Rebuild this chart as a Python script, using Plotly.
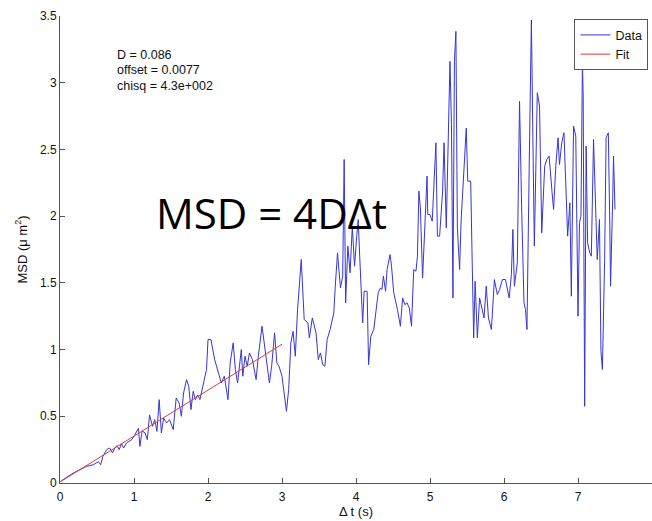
import plotly.graph_objects as go

# ---- data ----
data_t = [0.02,0.18,0.27,0.36,0.45,0.52,0.55,0.58,0.63,0.67,0.71,0.74,0.77,0.80,0.83,0.86,0.90,0.93,0.97,1.00,
          1.03,1.06,1.08,1.11,1.15,1.18,1.21,1.25,1.28,1.31,1.34,1.37,1.40,1.44,1.48,1.53,1.57,1.61,1.64,1.67,
          1.71,1.74,1.77,1.80,1.83,1.86,1.89,1.92,1.95,1.98,2.00,
          2.04,2.09,2.13,2.18,2.22,2.27,2.30,2.34,2.37,2.40,2.45,2.47,2.50,2.53,2.56,2.60,2.65,2.68,2.73,2.76,
          2.80,2.83,2.86,2.90,2.93,2.96,3.00,3.02,3.06,3.09,3.12,3.15,3.18,3.21,3.26,3.30,
          3.35,3.37,3.41,3.46,3.49,3.52,3.55,3.58,3.61,3.65,3.70,3.72,3.75,3.79,3.82,3.84,3.86,3.89,3.92,3.95,
          3.98,4.01,4.03,4.05,4.09,4.11,4.15,4.17,4.20,4.24,4.27,4.30,4.33,4.35,4.37,4.40,4.42,4.46,4.48,4.51,
          4.56,4.60,4.63,4.66,4.69,4.72,4.75,4.78,4.81,4.83,
          4.85,4.87,4.90,4.93,4.96,4.97,5.00,5.03,5.05,5.08,5.10,5.13,5.17,5.19,5.22,5.24,5.27,5.29,5.31,5.33,
          5.35,5.37,5.40,5.42,5.45,5.47,5.49,5.51,5.55,5.57,5.59,5.61,5.64,5.67,5.70,5.73,5.76,5.79,5.83,5.87,
          5.91,5.94,5.98,6.02,6.07,6.10,6.12,6.14,6.18,6.21,
          6.24,6.27,6.29,6.31,6.34,6.37,6.39,6.41,6.45,6.48,6.51,6.55,6.58,6.61,6.65,6.67,6.70,6.73,6.75,6.78,
          6.81,6.84,6.86,6.89,6.91,6.94,6.97,7.00,7.02,7.04,7.06,7.07,7.09,7.11,7.13,7.16,7.18,7.21,7.23,7.26,
          7.29,7.31,7.33,7.36,7.38,7.41,7.43,7.44,7.47,7.48,7.50]
data_msd = [0.017,0.075,0.10,0.125,0.137,0.16,0.137,0.20,0.25,0.262,0.225,0.262,0.28,0.25,0.295,0.262,0.30,0.312,0.325,0.35,
            0.375,0.41,0.275,0.39,0.375,0.325,0.51,0.425,0.475,0.387,0.625,0.375,0.487,0.45,0.475,0.40,0.637,0.60,0.50,0.675,
            0.775,0.725,0.55,0.687,0.625,0.66,0.625,0.70,0.787,0.85,1.075,
            1.075,0.925,0.85,0.75,0.80,0.625,0.90,1.05,0.85,0.75,1.00,0.80,0.95,0.875,0.975,0.925,0.775,0.95,1.175,1.05,
            0.85,0.75,0.875,1.125,0.90,0.875,0.80,0.70,0.537,0.70,1.05,1.137,0.95,1.30,1.675,1.225,
            1.20,1.087,1.237,1.125,0.925,0.975,0.887,0.875,1.075,1.15,1.275,1.475,1.725,1.462,1.55,2.425,1.35,1.775,1.575,1.925,
            1.625,1.85,1.975,1.70,1.20,1.437,1.437,0.887,1.10,1.15,1.30,1.425,1.462,1.45,1.55,1.437,1.60,1.712,1.625,1.425,
            1.30,1.175,1.387,1.337,1.35,1.312,1.175,1.60,1.587,1.70,
            2.187,2.062,1.537,1.912,2.30,2.012,2.012,1.962,2.162,2.55,1.85,1.85,2.187,2.55,1.912,2.437,3.16,2.687,1.387,3.16,
            3.385,1.912,1.60,1.962,2.262,2.437,2.66,2.262,2.262,1.662,1.087,1.512,1.087,1.387,1.312,1.237,1.475,1.237,1.15,1.525,
            1.412,1.45,1.525,1.525,1.387,1.562,1.90,1.475,1.65,2.86,
            2.025,1.35,1.30,1.15,2.35,3.47,2.60,1.775,2.925,2.825,1.875,2.375,2.425,2.45,2.175,2.05,2.375,2.587,2.387,2.55,
            2.625,2.05,1.85,2.10,1.40,2.675,2.60,1.25,1.95,2.00,3.15,2.90,0.575,2.525,1.80,1.725,1.70,2.575,2.20,1.675,
            1.975,0.987,0.85,1.675,2.587,2.625,1.925,1.475,2.15,2.45,2.05]

fit_t = [0.0, 3.0]
fit_msd = [0.0077, 1.04]

fit_params = ["D = 0.086", "offset = 0.0077", "chisq = 4.3e+002"]
x_ticks = [0, 1, 2, 3, 4, 5, 6, 7, 8]
y_ticks = [0, 0.5, 1, 1.5, 2, 2.5, 3, 3.5]

FONT = "Liberation Sans, Arial, sans-serif"

fig = go.Figure()
fig.add_trace(go.Scatter(x=data_t, y=data_msd, mode="lines", name="Data",
                         line=dict(color="#3636d4", width=1)))
fig.add_trace(go.Scatter(x=fit_t, y=fit_msd, mode="lines", name="Fit",
                         line=dict(color="#e03a3a", width=1)))

axis_common = dict(showline=True, linecolor="#555555", linewidth=1, mirror=False,
                   ticks="inside", ticklen=5, tickcolor="#555555", showgrid=False,
                   zeroline=False, tickfont=dict(family=FONT, size=12, color="#111111"))

fig.update_layout(
    width=652, height=521,
    margin=dict(l=60, r=0, t=16, b=38),
    paper_bgcolor="white", plot_bgcolor="white",
    showlegend=True,
    legend=dict(x=0.994, y=0.993, xanchor="right", yanchor="top",
                bordercolor="#555555", borderwidth=1, bgcolor="white",
                font=dict(family=FONT, size=12.5, color="#111111"),
                tracegroupgap=0, itemwidth=30),
    xaxis=dict(range=[0, 8], tickvals=x_ticks, ticklabelstandoff=3, **axis_common,
               title=dict(text="Δ t (s)", font=dict(family=FONT, size=13, color="#111111"), standoff=3)),
    yaxis=dict(range=[0, 3.5], tickvals=y_ticks, **axis_common,
               title=dict(text="MSD (μ m<sup>2</sup>)", font=dict(family=FONT, size=13, color="#111111"), standoff=9)),
)

for i, txt in enumerate(fit_params):
    fig.add_annotation(x=0.74, y=3.21 - 0.116 * i, xref="x", yref="y", text=txt, showarrow=False,
                       xanchor="left", yanchor="middle",
                       font=dict(family=FONT, size=12.5, color="#111111"))

fig.add_annotation(x=2.86, y=2.03, xref="x", yref="y", text="MSD = 4DΔt", showarrow=False,
                   xanchor="center", yanchor="middle",
                   font=dict(family="Open Sans, sans-serif", size=42, color="#000000"))

fig.write_html("out.html")
